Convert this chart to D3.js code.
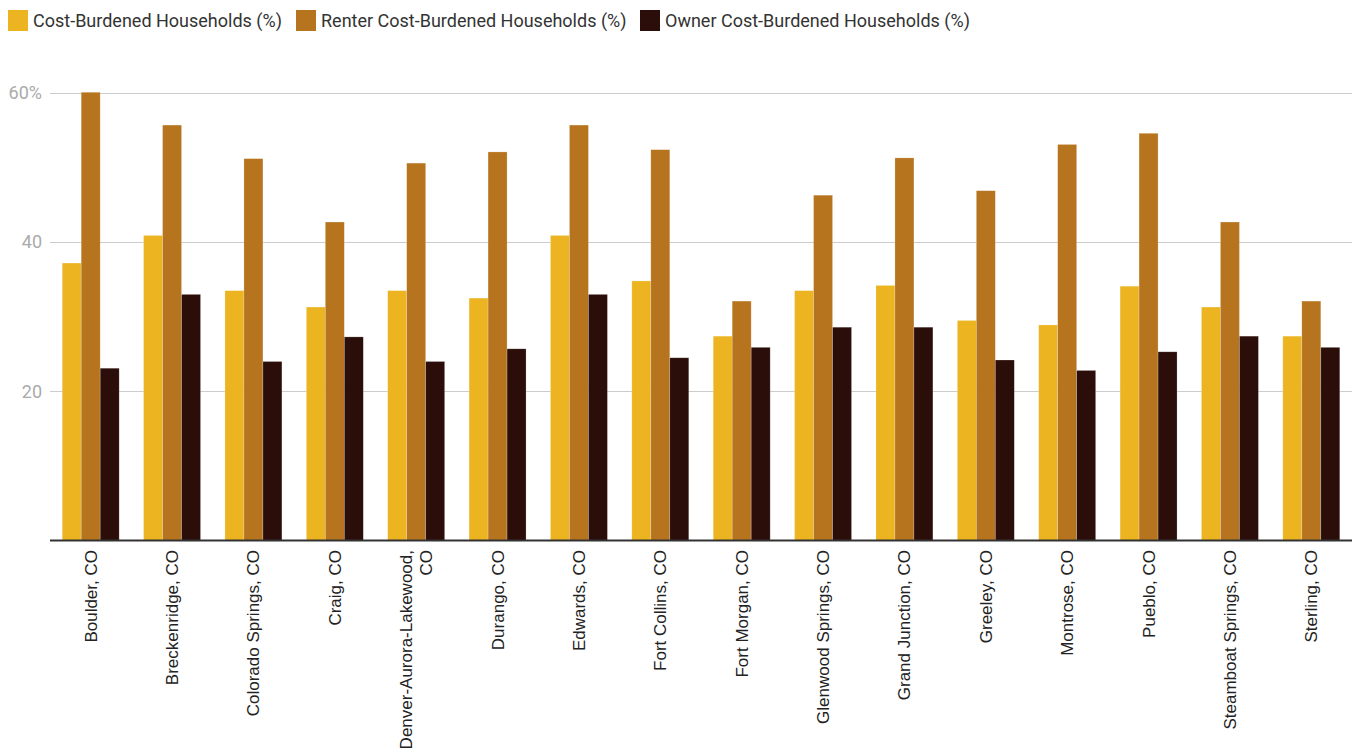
<!DOCTYPE html>
<html><head><meta charset="utf-8">
<script src="https://cdn.jsdelivr.net/npm/d3@7"></script>
<style>body{margin:0;background:#fff;font-family:Roboto,"Noto Sans",sans-serif}</style>
</head><body><svg id="c" width="1353" height="752"></svg>
<script>
(function(){
const categories = ["Boulder, CO","Breckenridge, CO","Colorado Springs, CO","Craig, CO","Denver-Aurora-Lakewood, CO","Durango, CO","Edwards, CO","Fort Collins, CO","Fort Morgan, CO","Glenwood Springs, CO","Grand Junction, CO","Greeley, CO","Montrose, CO","Pueblo, CO","Steamboat Springs, CO","Sterling, CO"];
const seriesNames = ["Cost-Burdened Households (%)","Renter Cost-Burdened Households (%)","Owner Cost-Burdened Households (%)"];
const costBurdened = [37.2,40.9,33.5,31.3,33.5,32.5,40.9,34.8,27.4,33.5,34.2,29.5,28.9,34.1,31.3,27.4];
const renterBurdened = [60.1,55.7,51.2,42.7,50.6,52.1,55.7,52.4,32.1,46.3,51.3,46.9,53.1,54.6,42.7,32.1];
const ownerBurdened = [23.1,33.0,24.0,27.3,24.0,25.7,33.0,24.5,25.9,28.6,28.6,24.2,22.8,25.3,27.4,25.9];
const yTicks = [20,40,60];
const colors = ["#ecb421","#b7741f","#2b0e0a"];

const svg = d3.select("#c");
const mLeft = 50, mRight = 1352, mTop = 93, mBottom = 540.5;
const x0 = d3.scaleBand().domain(categories).range([mLeft,mRight]).paddingInner(0.3).paddingOuter(0.15);
const x1 = d3.scaleBand().domain([0,1,2]).range([0,x0.bandwidth()]);
const y = d3.scaleLinear().domain([0,60]).range([mBottom,mTop]);
const series = [costBurdened, renterBurdened, ownerBurdened];

// gridlines
svg.append("g").selectAll("line").data(yTicks).join("line")
  .attr("x1",mLeft).attr("x2",mRight)
  .attr("y1",d=>Math.round(y(d))+0.5).attr("y2",d=>Math.round(y(d))+0.5)
  .attr("stroke","#cccccc").attr("stroke-width",1);
svg.append("g").selectAll("text").data(yTicks).join("text")
  .attr("x",42).attr("y",d=>y(d)).attr("dy","0.35em").attr("text-anchor","end")
  .attr("fill","#aaaaaa").attr("font-size",18)
  .text(d=>d===60? d+"%" : d);

// bars
const g = svg.append("g");
categories.forEach((c,i)=>{
  series.forEach((s,j)=>{
    g.append("rect")
      .attr("x",x0(c)+x1(j)).attr("width",x1.bandwidth())
      .attr("y",y(s[i])).attr("height",y(0)-y(s[i]))
      .attr("fill",colors[j]).attr("stroke","#ffffff").attr("stroke-opacity",0.35).attr("stroke-width",0.6);
  });
});

// baseline
svg.append("line").attr("x1",mLeft).attr("x2",mRight).attr("y1",mBottom).attr("y2",mBottom)
  .attr("stroke","#333333").attr("stroke-width",2);

// x labels
const xl = svg.append("g");
categories.forEach(c=>{
  const cx = x0(c)+x0.bandwidth()/2;
  const lines = c.length>24 ? [c.replace(/ CO$/,"").trim(),"CO"] : [c];
  const t = xl.append("text").attr("transform",`translate(${cx},550) rotate(-90)`)
    .attr("text-anchor","end").attr("fill","#222")
    .attr("font-family","'Liberation Sans',Arial,sans-serif").attr("font-size",17);
  const lh = 20;
  lines.forEach((ln,k)=>{
    t.append("tspan").attr("x",0).attr("y",0).attr("dy",(0.35 + (k-(lines.length-1)/2)*lh/17)+"em").text(ln);
  });
});

// legend
const legX = [8,296,640];
const lg = svg.append("g");
seriesNames.forEach((n,j)=>{
  lg.append("rect").attr("x",legX[j]).attr("y",10).attr("width",20).attr("height",21).attr("fill",colors[j]);
  lg.append("text").attr("x",legX[j]+25).attr("y",20.5).attr("dy","0.35em")
    .attr("fill","#333").attr("font-size",18).text(n);
});
})();
</script></body></html>
